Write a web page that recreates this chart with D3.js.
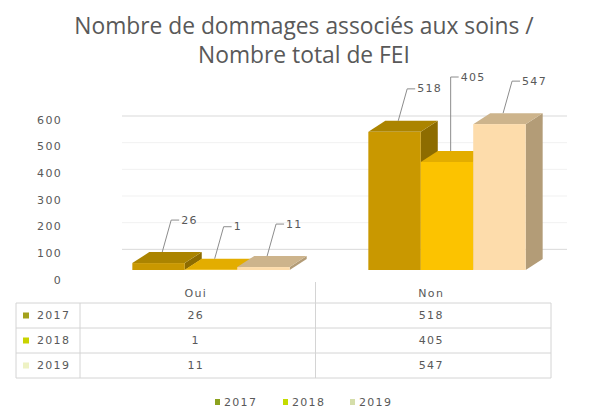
<!DOCTYPE html>
<html>
<head>
<meta charset="utf-8">
<script src="https://cdnjs.cloudflare.com/ajax/libs/d3/7.8.5/d3.min.js"></script>
<style>
  html, body { margin: 0; padding: 0; background: #ffffff; }
  svg { display: block; }
  text { fill: #595959; }
</style>
</head>
<body>
<svg id="chart" width="597" height="409"></svg>
<script>
// ---- data ----
const titleLines = ["Nombre de dommages associés aux soins /", "Nombre total de FEI"];
const categories = ["Oui", "Non"];
const years = ["2017", "2018", "2019"];
const values2017 = [26, 518];
const values2018 = [1, 405];
const values2019 = [11, 547];
const yTicks = [0, 100, 200, 300, 400, 500, 600];

const seriesValues = [values2017, values2018, values2019];

// ---- styles ----
const barFront = ["#c99800", "#fcc300", "#fddcab"];
const barTop   = ["#ab8400", "#e3ad00", "#cdb48c"];
const barSide  = ["#8d6c00", "#c09200", "#b39c77"];
const tableMark = ["#a3a11c", "#c9d300", "#eef2c4"];
const legendMark = ["#8ca21e", "#c3dc00", "#d5deaa"];
const FONT = "'DejaVu Sans', Verdana, sans-serif";

const svg = d3.select("#chart");

// title
svg.append("g").selectAll("text").data(titleLines).join("text")
  .attr("x", 304).attr("y", (d, i) => 34 + i * 29)
  .attr("text-anchor", "middle")
  .style("font-family", "'Open Sans', sans-serif")
  .style("font-size", "22.8px")
  .text(d => d);

// scales
const y = d3.scaleLinear().domain([0, 600]).range([270, 110]);
const x = d3.scaleBand().domain(categories).range([93, 565]).paddingInner(1/3).paddingOuter(1/6);
const xs = d3.scaleBand().domain(years).range([0, x.bandwidth()]);
const DX = 17, DY = -11;

// gridlines
svg.append("g").selectAll("line").data(yTicks.filter(t => t > 0)).join("line")
  .attr("x1", 122).attr("x2", 567)
  .attr("y1", d => y(d) + 6).attr("y2", d => y(d) + 6)
  .attr("stroke", d => (d === 600 || d === 100) ? "#d9d9d9" : "#f1f1f1")
  .attr("stroke-width", 1);

// y axis labels
svg.append("g").selectAll("text").data(yTicks).join("text")
  .attr("x", 62).attr("y", d => y(d) + 10)
  .attr("text-anchor", "end").attr("dominant-baseline", "central")
  .style("font-family", FONT).style("font-size", "11px").style("letter-spacing", "1.3px")
  .text(d => d);

// bars (3D boxes)
const bars = [];
categories.forEach((c, ci) => {
  years.forEach((yr, si) => {
    bars.push({cat: c, year: yr, si, value: seriesValues[si][ci]});
  });
});

const gBars = svg.append("g");
bars.forEach(b => {
  const x0 = x(b.cat) + xs(b.year);
  const w = xs.bandwidth();
  const yt = y(b.value), yb = y(0);
  const g = gBars.append("g");
  g.append("path")
    .attr("d", `M${x0 + w},${yt} L${x0 + w + DX},${yt + DY} L${x0 + w + DX},${yb + DY} L${x0 + w},${yb} Z`)
    .attr("fill", barSide[b.si]);
  g.append("path")
    .attr("d", `M${x0},${yt} L${x0 + DX},${yt + DY} L${x0 + w + DX},${yt + DY} L${x0 + w},${yt} Z`)
    .attr("fill", barTop[b.si]);
  g.append("rect")
    .attr("x", x0).attr("y", yt).attr("width", w).attr("height", yb - yt)
    .attr("fill", barFront[b.si]);
});

// data labels with leader lines
const labelYOverride = {"Non|2018": 77};
const gLab = svg.append("g");
bars.forEach(b => {
  const x0 = x(b.cat) + xs(b.year);
  const w = xs.bandwidth();
  const sx = x0 + w * 0.57, sy = y(b.value) + DY;
  const key = b.cat + "|" + b.year;
  const ly = labelYOverride[key] !== undefined ? labelYOverride[key] : sy - 32;
  const ex = labelYOverride[key] !== undefined ? sx : sx + 0.28 * (sy - ly);
  gLab.append("path")
    .attr("d", `M${sx},${sy} L${ex},${ly} L${ex + 8},${ly}`)
    .attr("fill", "none").attr("stroke", "#8c8c8c").attr("stroke-width", 1);
  gLab.append("text")
    .attr("x", ex + 10).attr("y", ly)
    .attr("dominant-baseline", "central")
    .style("font-family", FONT).style("font-size", "11px").style("letter-spacing", "1.3px")
    .text(b.value);
});

// data table
const tLeft = 16, tLab = 80, tRight = 551;
const tTop = 303, rowH = 25;
const colX = d3.scaleBand().domain(categories).range([tLab, tRight]);
const gT = svg.append("g");
gT.selectAll("text.h").data(categories).join("text").attr("class", "h")
  .attr("x", d => colX(d) + colX.bandwidth() / 2 - 2).attr("y", 293)
  .attr("text-anchor", "middle").attr("dominant-baseline", "central")
  .style("font-family", FONT).style("font-size", "11px").style("letter-spacing", "1.3px")
  .text(d => d);
const lineColor = "#d4d4d4";
for (let r = 0; r <= years.length; r++) {
  gT.append("line").attr("x1", tLeft).attr("x2", tRight)
    .attr("y1", tTop + r * rowH).attr("y2", tTop + r * rowH)
    .attr("stroke", lineColor);
}
gT.append("line").attr("x1", tLeft).attr("x2", tLeft).attr("y1", tTop).attr("y2", tTop + 3 * rowH).attr("stroke", lineColor);
gT.append("line").attr("x1", tLab).attr("x2", tLab).attr("y1", tTop).attr("y2", tTop + 3 * rowH).attr("stroke", lineColor);
gT.append("line").attr("x1", colX("Non")).attr("x2", colX("Non")).attr("y1", 282).attr("y2", tTop + 3 * rowH).attr("stroke", lineColor);
gT.append("line").attr("x1", tRight).attr("x2", tRight).attr("y1", tTop).attr("y2", tTop + 3 * rowH).attr("stroke", lineColor);
years.forEach((yr, si) => {
  const cy = tTop + si * rowH + rowH / 2;
  gT.append("rect").attr("x", 23).attr("y", cy - 3).attr("width", 6).attr("height", 6).attr("fill", tableMark[si]);
  gT.append("text").attr("x", 37).attr("y", cy).attr("dominant-baseline", "central")
    .style("font-family", FONT).style("font-size", "11px").style("letter-spacing", "1.3px")
    .text(yr);
  categories.forEach((c, ci) => {
    gT.append("text").attr("x", colX(c) + colX.bandwidth() / 2 - 2).attr("y", cy)
      .attr("text-anchor", "middle").attr("dominant-baseline", "central")
      .style("font-family", FONT).style("font-size", "11px").style("letter-spacing", "1.3px")
      .text(seriesValues[si][ci]);
  });
});

// legend
const legX = [215, 283, 350];
const gL = svg.append("g");
years.forEach((yr, si) => {
  gL.append("rect").attr("x", legX[si]).attr("y", 399).attr("width", 5).attr("height", 6).attr("fill", legendMark[si]);
  gL.append("text").attr("x", legX[si] + 9).attr("y", 402).attr("dominant-baseline", "central")
    .style("font-family", FONT).style("font-size", "11px").style("letter-spacing", "1.3px")
    .text(yr);
});
</script>
</body>
</html>
